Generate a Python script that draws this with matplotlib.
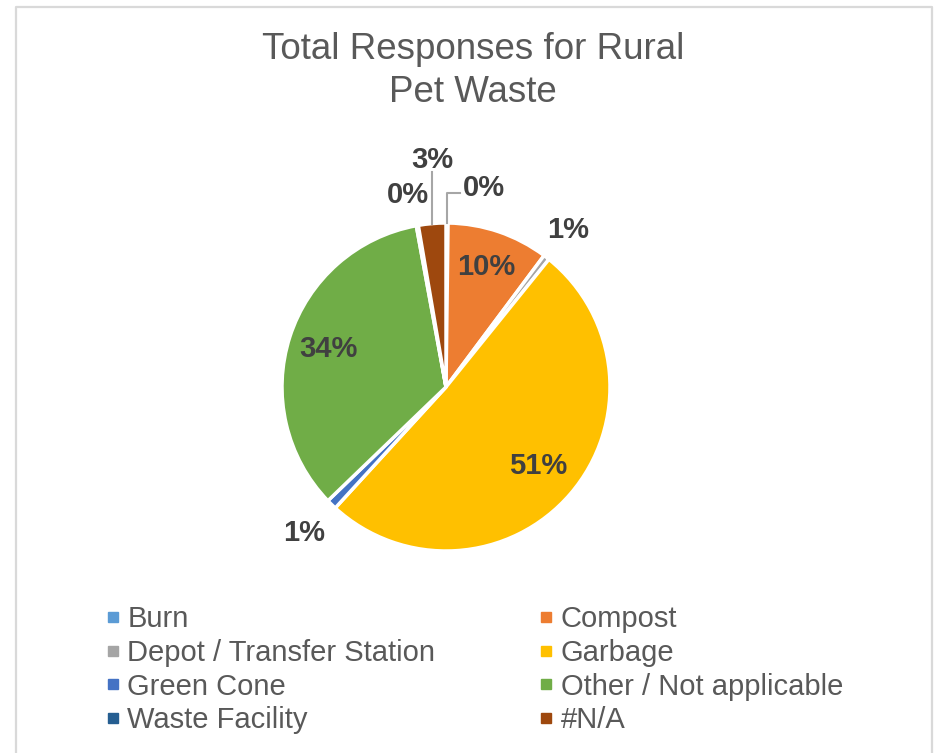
import numpy as np
import matplotlib.pyplot as plt
from matplotlib.lines import Line2D

plt.rcParams['font.family'] = ['Liberation Sans', 'DejaVu Sans']

categories = ['Burn', 'Compost', 'Depot / Transfer Station', 'Garbage',
              'Green Cone', 'Other / Not applicable', 'Waste Facility', '#N/A']
shares = [0.2, 10.0, 0.6, 51.0, 1.0, 34.3, 0.2, 2.7]
colors = ['#5B9BD5', '#ED7D31', '#A5A5A5', '#FFC000',
          '#4472C4', '#70AD47', '#255E91', '#9E480E']

W, H = 939, 753
fig = plt.figure(figsize=(W / 100, H / 100), dpi=100)

# pie centre / radius in pixels
cx, cy, r = 446, 387, 164
ax = fig.add_axes([(cx - r) / W, 1 - (cy + r) / H, 2 * r / W, 2 * r / H])

wedges, _ = ax.pie(shares, colors=colors, startangle=90, counterclock=False,
                   radius=1, wedgeprops=dict(edgecolor='white', linewidth=2.5))
ax.set_xlim(-1, 1)
ax.set_ylim(-1, 1)
ax.set_aspect('equal')

total = sum(shares)
pct = [v / total * 100 for v in shares]
mid = [np.deg2rad((w.theta1 + w.theta2) / 2) for w in wedges]

lab_kw = dict(fontsize=21, fontweight='bold', color='#404040',
              ha='center', va='center')

# labels inside slices
for i, rr in [(1, 0.77), (3, 0.74), (5, 0.75)]:
    a = mid[i]
    ax.text(rr * np.cos(a), rr * np.sin(a), f'{pct[i]:.0f}%', **lab_kw)

# small slices, labels outside
for i, rr in [(2, 1.21), (4, 1.24)]:
    a = mid[i]
    ax.text(rr * np.cos(a), rr * np.sin(a), f'{pct[i]:.0f}%', **lab_kw)

lc = '#A6A6A6'
# Burn (0%) with bent leader
a = mid[0]
x0 = np.cos(a)
ax.plot([x0, x0, 0.085], [np.sin(a), 1.18, 1.18], color=lc, lw=1.5, clip_on=False)
ax.text(0.1, 1.215, f'{pct[0]:.0f}%', **dict(lab_kw, ha='left'))
# #N/A (3%) with vertical leader
a = mid[7]
x0 = np.cos(a)
ax.plot([x0, x0], [np.sin(a), 1.31], color=lc, lw=1.5, clip_on=False)
ax.text(x0, 1.385, f'{pct[7]:.0f}%', **lab_kw)
# Waste Facility (0%)
ax.text(-0.23, 1.17, f'{pct[6]:.0f}%', **lab_kw)

fig.text(473 / W, 1 - 71 / H, 'Total Responses for Rural\nPet Waste',
         ha='center', va='center', fontsize=26.5, color='#595959', linespacing=1.27)

# legend, row-major order in two columns
order = [0, 2, 4, 6, 1, 3, 5, 7]
handles = [Line2D([], [], marker='s', ls='', markersize=6.5,
                  markerfacecolor=colors[i], markeredgecolor=colors[i]) for i in order]
leg = fig.legend(handles, [categories[i] for i in order], ncol=2,
                 loc='upper left', bbox_to_anchor=(107 / W, 1 - 605 / H),
                 frameon=False, fontsize=21, labelcolor='#595959',
                 handlelength=0.4, handletextpad=0.3, columnspacing=3.6,
                 labelspacing=0.2, borderpad=0, borderaxespad=0)

# outer chart frame
fc = '#D9D9D9'
fig.add_artist(Line2D([15.5 / W, 15.5 / W, 931.5 / W, 931.5 / W],
                      [0, 1 - 7 / H, 1 - 7 / H, 0], color=fc, lw=1.6))

fig.savefig('out.png', dpi=100)
